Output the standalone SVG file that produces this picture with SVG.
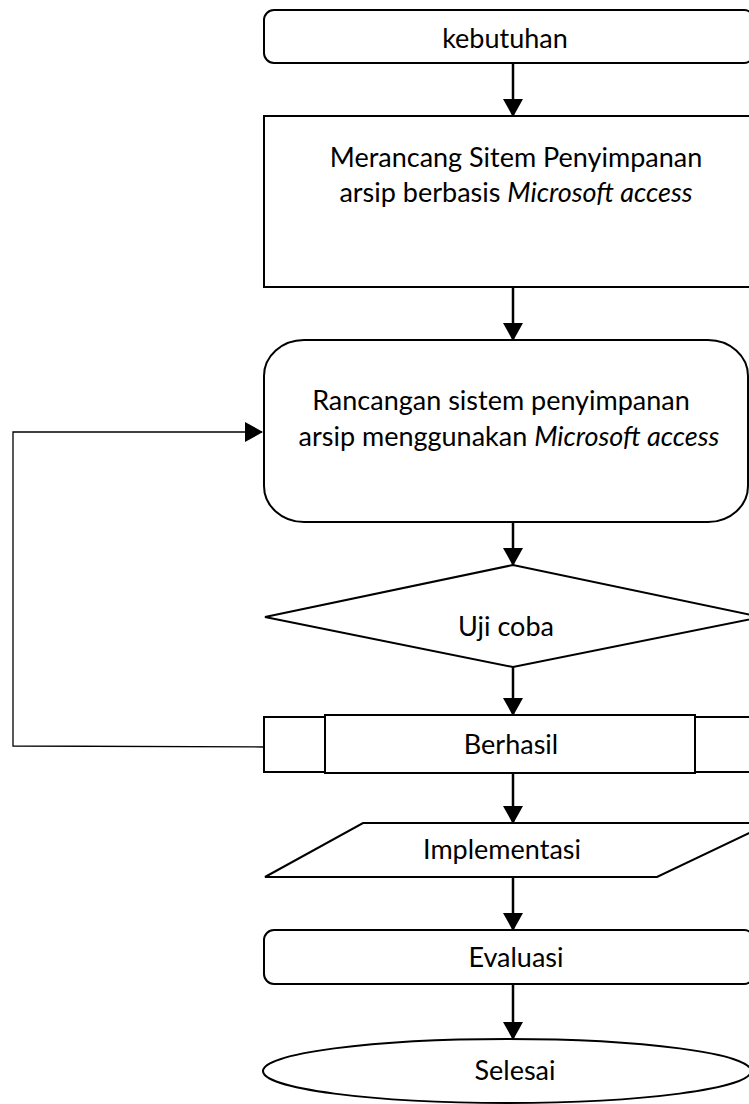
<svg xmlns="http://www.w3.org/2000/svg" width="749" height="1104" viewBox="0 0 749 1104">
<defs>
<style>
.s{fill:#fff;stroke:#000;stroke-width:2}
.t{font-family:Lato,"Open Sans",sans-serif;font-size:27px;fill:#000;text-anchor:middle}
.i{font-style:italic}
.c{fill:none;stroke:#000;stroke-width:2.5}
.loop{fill:none;stroke:#000;stroke-width:1.3}
</style>
<marker id="ah" viewBox="0 0 18 20" refX="17" refY="10" markerWidth="18" markerHeight="20" markerUnits="userSpaceOnUse" orient="auto">
<path d="M0,0 L18,10 L0,20 z" fill="#000"/>
</marker>
</defs>
<rect width="749" height="1104" fill="#fff"/>
<g id="connectors">
<line class="c" x1="513" y1="63" x2="513" y2="116" marker-end="url(#ah)"/>
<line class="c" x1="513" y1="287" x2="513" y2="340" marker-end="url(#ah)"/>
<line class="c" x1="513" y1="522" x2="513" y2="565" marker-end="url(#ah)"/>
<line class="c" x1="513" y1="667" x2="513" y2="715" marker-end="url(#ah)"/>
<line class="c" x1="513" y1="773" x2="513" y2="823" marker-end="url(#ah)"/>
<line class="c" x1="513" y1="877" x2="513" y2="930" marker-end="url(#ah)"/>
<line class="c" x1="513" y1="984" x2="513" y2="1039" marker-end="url(#ah)"/>
<polyline class="loop" points="264,747 13,746 13,432 262,432" marker-end="url(#ah)"/>
</g>
<g id="kebutuhan">
<rect class="s" x="264" y="10" width="490" height="53" rx="10" ry="10"/>
<text class="t" x="505" y="48">kebutuhan</text>
</g>
<g id="merancang">
<rect class="s" x="264" y="116" width="490" height="171"/>
<text class="t" x="516" y="167">Merancang Sitem Penyimpanan</text>
<text class="t" x="516" y="202">arsip berbasis <tspan class="i">Microsoft access</tspan></text>
</g>
<g id="rancangan">
<rect class="s" x="264" y="340" width="484" height="182" rx="40" ry="36"/>
<text class="t" x="501" y="410">Rancangan sistem penyimpanan</text>
<text class="t" x="509" y="446">arsip menggunakan <tspan class="i">Microsoft access</tspan></text>
</g>
<g id="ujicoba">
<polygon class="s" points="513,565 265,617 513,667 761,617"/>
<text class="t" x="506" y="636">Uji coba</text>
</g>
<g id="berhasil">
<rect class="s" x="264" y="717" width="490" height="55"/>
<rect class="s" x="325" y="715" width="370" height="58"/>
<text class="t" x="511" y="754">Berhasil</text>
</g>
<g id="implementasi">
<polygon class="s" points="363,823 770,823 657,877 265,877"/>
<text class="t" x="502" y="859">Implementasi</text>
</g>
<g id="evaluasi">
<rect class="s" x="264" y="930" width="490" height="54" rx="10" ry="10"/>
<text class="t" x="516" y="967">Evaluasi</text>
</g>
<g id="selesai">
<ellipse class="s" cx="507" cy="1071" rx="244" ry="32"/>
<text class="t" x="515" y="1080">Selesai</text>
</g>
</svg>
